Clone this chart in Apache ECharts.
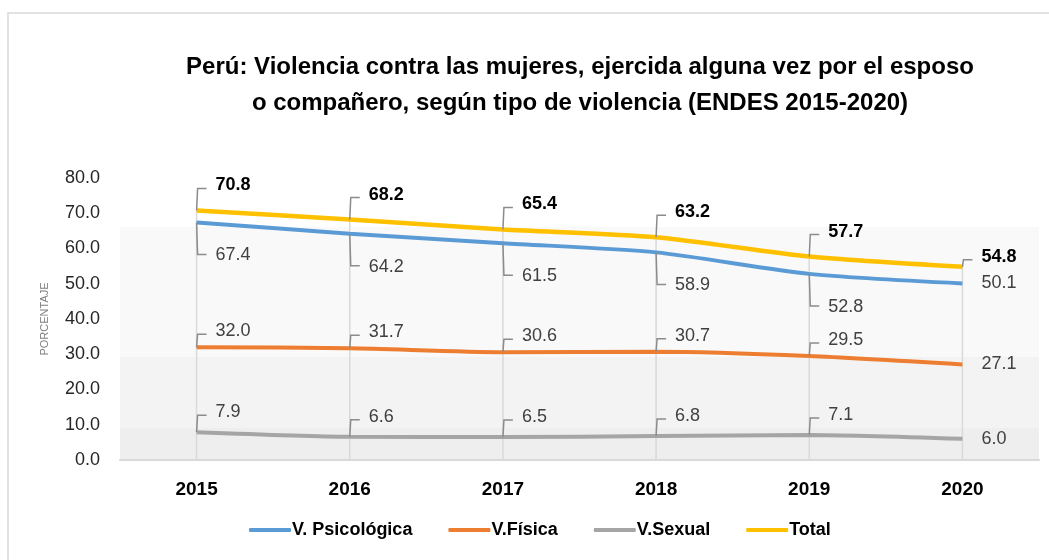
<!DOCTYPE html>
<html lang="es">
<head>
    <meta charset="UTF-8">
    <title>Violencia contra las mujeres</title>
    <script src="https://cdn.jsdelivr.net/npm/echarts@6/dist/echarts.min.js"></script>
</head>
<body style="margin:0">
<div id="chart" style="width: 1049px;height:560px;"></div>
</body>
<script>
    var years = ['2015', '2016', '2017', '2018', '2019', '2020'];
    var psicologica = [67.4, 64.2, 61.5, 58.9, 52.8, 50.1];
    var fisica = [32.0, 31.7, 30.6, 30.7, 29.5, 27.1];
    var sexual = [7.9, 6.6, 6.5, 6.8, 7.1, 6.0];
    var total = [70.8, 68.2, 65.4, 63.2, 57.7, 54.8];
    var yTicks = [0, 10, 20, 30, 40, 50, 60, 70, 80];

    var FONT = '"Liberation Sans", Arial, sans-serif';

    // drop lines from the Total points down to the axis
    var dropLineSeries = {
        name: 'drop lines',
        type: 'custom',
        z: 1,
        silent: true,
        data: total.map(function (v, i) { return [i, v]; }),
        renderItem: function (params, api) {
            var p = api.coord([api.value(0), api.value(1)]);
            var base = api.coord([api.value(0), 0]);
            return {
                type: 'line',
                shape: {x1: p[0], y1: p[1], x2: base[0], y2: base[1]},
                style: {stroke: '#d9d9d9', lineWidth: 1.5}
            };
        }
    };

    // callout labels: little bracket from the point to the text
    function calloutSeries(name, values, dy, bold) {
        return {
            name: name + ' labels',
            type: 'custom',
            z: 5,
            silent: true,
            data: values.map(function (v, i) { return [i, v]; }),
            renderItem: function (params, api) {
                var p = api.coord([api.value(0), api.value(1)]);
                var last = params.dataIndex === values.length - 1;
                var d = dy;
                var bracket = true;
                if (last) {
                    if (bold) { d = -10; } else { d = 0; bracket = false; }
                }
                var ty = p[1] + d;
                var children = [];
                if (bracket) {
                    var by = d < 0 ? ty + 3 : ty - 1;
                    children.push({
                        type: 'polyline',
                        shape: {points: [[p[0], p[1]], [p[0] + 1, by], [p[0] + 10, by]]},
                        style: {stroke: '#8c8c8c', lineWidth: 1.5, fill: null}
                    });
                }
                children.push({
                    type: 'text',
                    x: p[0] + 19,
                    y: ty,
                    style: {
                        text: api.value(1).toFixed(1),
                        font: (bold ? 'bold ' : '') + '18px ' + FONT,
                        fill: bold ? '#000' : '#404040',
                        verticalAlign: 'middle',
                        align: 'left'
                    }
                });
                return {type: 'group', children: children};
            }
        };
    }

    function lineSeries(name, values, color, width, extra) {
        var s = {
            name: name,
            type: 'line',
            data: values,
            smooth: 0.25,
            symbol: 'none',
            z: 3,
            lineStyle: {color: color, width: width},
            itemStyle: {color: color}
        };
        return Object.assign(s, extra || {});
    }

    var chart = echarts.init(document.getElementById('chart'));
    chart.setOption({
        animation: false,
        backgroundColor: '#fff',
        textStyle: {fontFamily: FONT},
        graphic: [{
            type: 'rect',
            shape: {x: 8, y: 13, width: 1100, height: 600},
            style: {fill: null, stroke: '#d9d9d9', lineWidth: 1.5},
            silent: true
        }],
        title: {
            text: 'Perú: Violencia contra las mujeres, ejercida alguna vez por el esposo\no compañero, según tipo de violencia (ENDES 2015-2020)',
            left: 575,
            textAlign: 'center',
            top: 44,
            textStyle: {fontSize: 24, fontWeight: 'bold', color: '#000', lineHeight: 36, fontFamily: FONT}
        },
        legend: {
            data: ['V. Psicológica', 'V.Física', 'V.Sexual', 'Total'],
            bottom: 16,
            left: 244,
            itemWidth: 42,
            itemHeight: 4,
            itemGap: 36,
            icon: 'roundRect',
            textStyle: {fontSize: 18, fontWeight: 'bold', color: '#000', padding: [0, 0, 0, -4]}
        },
        grid: {left: 120, right: 10, top: 178, bottom: 100},
        xAxis: {
            type: 'category',
            data: years,
            boundaryGap: true,
            axisLine: {lineStyle: {color: '#d9d9d9', width: 2}},
            axisTick: {show: false},
            axisLabel: {fontSize: 19, fontWeight: 'bold', color: '#000', margin: 20},
            splitLine: {show: false}
        },
        yAxis: {
            type: 'value',
            min: yTicks[0],
            max: yTicks[yTicks.length - 1],
            interval: 10,
            name: 'PORCENTAJE',
            nameLocation: 'middle',
            nameGap: 70,
            nameTextStyle: {fontSize: 11, color: '#7f7f7f'},
            axisLine: {show: false},
            axisTick: {show: false},
            splitLine: {show: false},
            axisLabel: {
                fontSize: 18, color: '#262626', margin: 20,
                formatter: function (v) { return v.toFixed(1); }
            }
        },
        series: [
            lineSeries('V. Psicológica', psicologica, '#5B9BD5', 4, {
                markArea: {
                    silent: true,
                    z: 0,
                    data: [
                        [{yAxis: 29.2, itemStyle: {color: '#f9f9f9'}}, {yAxis: 66.1}],
                        [{yAxis: 9.1, itemStyle: {color: '#f3f3f3'}}, {yAxis: 29.2}],
                        [{yAxis: 0, itemStyle: {color: '#eeeeee'}}, {yAxis: 9.1}]
                    ]
                }
            }),
            lineSeries('V.Física', fisica, '#ED7D31', 4),
            lineSeries('V.Sexual', sexual, '#A5A5A5', 4),
            lineSeries('Total', total, '#FFC000', 4.5),
            dropLineSeries,
            calloutSeries('V. Psicológica', psicologica, 33, false),
            calloutSeries('V.Física', fisica, -16, false),
            calloutSeries('V.Sexual', sexual, -20, false),
            calloutSeries('Total', total, -25, true)
        ]
    });
</script>
</html>
